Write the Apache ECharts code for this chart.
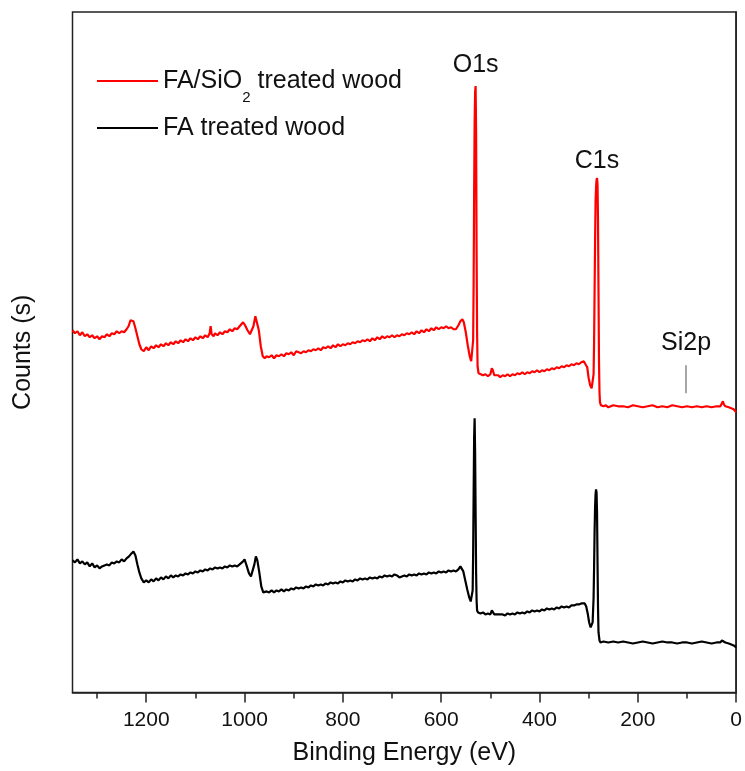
<!DOCTYPE html>
<html>
<head>
<meta charset="utf-8">
<script src="https://cdn.jsdelivr.net/npm/echarts@6/dist/echarts.min.js"></script>
<style>
html, body { margin: 0; padding: 0; background: #fff; }
#main { width: 745px; height: 771px; }
</style>
</head>
<body>
<div id="main"></div>
<script>
// XPS survey spectra, [binding energy (eV), counts (a.u.)]
var seriesNames = ['FA/SiO2 treated wood', 'FA treated wood'];

var redData = [
  [1350,362],[1345,359],[1340,361],[1335,357],[1330,360],[1325,356],[1320,358],[1315,355],[1310,357],[1305,354],
  [1300,356],[1295,353],[1290,356],[1285,355],[1280,358],[1275,356],[1270,359],[1265,358],[1260,361],[1255,359],
  [1250,361],[1245,360],[1240,363],[1236,366],[1232,372],[1229,373],[1226,371],[1222,364],[1218,356],[1214,348],
  [1210,343],[1205,341],[1200,345],[1195,342],[1190,346],[1185,344],[1180,347],[1175,345],[1170,348],[1165,346],
  [1160,349],[1155,347],[1150,350],[1145,348],[1140,351],[1135,349],[1130,352],[1125,350],[1120,353],[1115,351],
  [1110,354],[1105,352],[1100,355],[1095,353],[1090,356],[1085,354],[1080,357],[1075,355],[1071,359],[1069,366],
  [1067,358],[1063,356],[1060,359],[1055,357],[1050,360],[1045,358],[1040,361],[1035,360],[1030,363],[1025,361],
  [1020,364],[1015,363],[1010,366],[1006,367],[1003,370],[999,367],[994,362],[989,358],[986,357],[982,366],
  [978,376],[975,375],[971,362],[967,346],[963,336],[959,334],[955,336],[950,335],[945,337],[940,334],
  [935,337],[930,336],[925,338],[920,336],[915,339],[910,338],[905,340],[900,337],[895,341],[890,340],
  [885,339],[880,341],[875,340],[870,342],[865,341],[860,343],[855,342],[850,344],[845,342],[840,345],
  [835,344],[830,346],[825,344],[820,347],[815,345],[810,348],[805,346],[800,348],[795,347],[790,349],
  [785,348],[780,350],[775,349],[770,351],[765,350],[760,352],[755,351],[750,353],[745,351],[740,354],
  [735,352],[730,355],[725,353],[720,356],[715,354],[710,356],[705,355],[700,357],[695,355],[690,357],
  [685,356],[680,358],[675,357],[670,359],[665,358],[660,360],[655,358],[650,361],[645,359],[640,362],
  [635,360],[630,363],[625,361],[620,364],[615,362],[610,365],[605,363],[600,365],[595,364],[590,366],
  [585,364],[580,365],[575,363],[570,363],[565,367],[561,371],[557,373],[554,370],[550,360],[546,347],
  [542,336],[539,331],[537,331],[535,352],[534,410],[533,500],[532,570],[531,600],[530,606],[529,560],
  [528,440],[527,360],[526,326],[524,319],[520,318],[515,317],[510,318],[505,316],[500,318],[497,324],
  [495,322],[492,317],[488,316],[484,317],[480,315],[475,317],[470,316],[465,318],[460,316],[455,318],
  [450,317],[445,319],[440,318],[435,320],[430,318],[425,320],[420,319],[415,321],[410,320],[405,322],
  [400,320],[395,322],[390,321],[385,323],[380,322],[375,324],[370,323],[365,325],[360,324],[355,326],
  [350,325],[345,327],[340,326],[335,328],[330,327],[325,329],[320,328],[315,330],[310,331],[306,330],
  [303,325],[300,314],[297,307],[294,304],[292,305],[290,318],[289,350],[288,400],[287,450],[286,490],
  [285,505],[284,512],[283,514],[282,508],[281,470],[280,400],[279,330],[278,300],[277,290],[275,287],
  [270,286],[265,287],[260,285],[250,287],[240,286],[230,286],[220,285],[210,287],[200,286],[190,285],
  [180,286],[170,287],[160,285],[150,286],[140,285],[130,287],[120,286],[110,285],[100,286],[90,285],
  [80,286],[70,285],[60,286],[50,285],[40,286],[32,286],[29,289],[27,291],[25,288],[22,286],
  [15,285],[10,284],[5,283],[0,280]
];

var blackData = [
  [1350,132],[1345,130],[1340,133],[1335,129],[1330,131],[1325,128],[1320,130],[1315,126],[1310,129],[1305,125],
  [1300,127],[1295,124],[1290,126],[1285,127],[1280,128],[1275,127],[1270,130],[1265,129],[1260,131],[1255,130],
  [1250,133],[1245,131],[1240,134],[1235,136],[1230,139],[1226,141],[1222,137],[1218,128],[1214,120],[1210,114],
  [1205,110],[1200,112],[1195,110],[1190,113],[1185,111],[1180,114],[1175,112],[1170,115],[1165,113],[1160,116],
  [1155,114],[1150,117],[1145,115],[1140,117],[1135,116],[1130,118],[1125,117],[1120,119],[1115,118],[1110,120],
  [1105,119],[1100,121],[1095,120],[1090,122],[1085,121],[1080,123],[1075,122],[1070,124],[1065,123],[1060,125],
  [1055,124],[1050,125],[1045,124],[1040,126],[1035,125],[1030,127],[1025,126],[1020,127],[1015,126],[1010,128],
  [1006,129],[1003,131],[1000,133],[996,127],[991,119],[987,116],[984,115],[980,128],[977,136],[974,132],
  [970,120],[966,106],[962,100],[958,99],[955,101],[950,100],[945,102],[940,100],[935,102],[930,101],
  [925,103],[920,101],[915,103],[910,102],[905,104],[900,103],[895,105],[890,104],[885,105],[880,104],
  [875,106],[870,105],[865,107],[860,106],[855,108],[850,107],[845,108],[840,107],[835,109],[830,108],
  [825,110],[820,109],[815,110],[810,109],[805,111],[800,110],[795,112],[790,111],[785,112],[780,111],
  [775,113],[770,112],[765,114],[760,113],[755,114],[750,113],[745,115],[740,114],[735,115],[730,114],
  [725,116],[720,115],[715,117],[710,116],[705,117],[700,116],[695,118],[690,117],[685,115],[680,116],
  [675,117],[670,116],[665,118],[660,117],[655,118],[650,117],[645,119],[640,118],[635,119],[630,118],
  [625,120],[620,119],[615,120],[610,119],[605,121],[600,120],[595,121],[590,120],[585,122],[580,121],
  [575,122],[570,121],[565,123],[561,126],[558,125],[555,121],[551,112],[547,103],[543,95],[540,91],
  [538,90],[536,102],[535,140],[534,200],[533,255],[532,274],[531,240],[530,180],[529,120],[528,92],
  [527,82],[525,80],[520,79],[515,80],[510,78],[505,79],[500,78],[497,82],[495,81],[492,78],
  [488,77],[484,78],[480,77],[475,78],[470,77],[465,79],[460,78],[455,79],[450,78],[445,80],
  [440,79],[435,80],[430,79],[425,81],[420,80],[415,82],[410,81],[405,82],[400,81],[395,83],
  [390,82],[385,84],[380,83],[375,84],[370,83],[365,85],[360,84],[355,86],[350,85],[345,86],
  [340,85],[335,87],[330,87],[325,88],[320,88],[315,89],[311,90],[308,89],[305,86],[302,79],
  [299,70],[296,65],[294,64],[292,70],[290,95],[289,125],[288,160],[287,185],[286,198],[285,203],
  [284,200],[283,180],[282,130],[281,85],[280,60],[278,52],[276,50],[270,51],[260,50],[250,51],
  [240,50],[230,51],[220,50],[210,49],[200,50],[190,51],[180,50],[170,49],[160,50],[150,51],
  [140,50],[130,50],[120,49],[110,50],[100,50],[90,49],[80,50],[70,51],[60,50],[50,49],
  [40,50],[32,50],[29,52],[27,53],[25,51],[22,50],[15,49],[10,48],[5,47],[0,45]
];

var majorTicks = [0, 200, 400, 600, 800, 1000, 1200];
var minorTicks = [100, 300, 500, 700, 900, 1100, 1300];

var peakNames = ['O1s', 'C1s'];
var peakEnergies = [530, 283];
var si2pName = 'Si2p';
var si2pEnergy = 102;
var si2pTick = [299, 327];   // bottom, top of the marker line
var si2pLabelAt = 349;

var FONT = '"Liberation Sans", Arial, sans-serif';

// highest point of the red curve near each labelled energy
function peakCoord(data, e) {
  var best = null;
  data.forEach(function (p) {
    if (Math.abs(p[0] - e) <= 4 && (!best || p[1] > best[1])) best = p;
  });
  return best;
}

var labelGaps = [8, 4];
var markData = peakNames.map(function (n, i) {
  return {
    name: n,
    coord: peakCoord(redData, peakEnergies[i]),
    label: { position: 'top', distance: labelGaps[i] }
  };
});
markData.push({ name: si2pName, coord: [si2pEnergy, si2pLabelAt], label: { position: 'inside' } });

var chart = echarts.init(document.getElementById('main'));

chart.setOption({
  animation: false,
  backgroundColor: '#fff',
  grid: {
    left: 72.5, right: 7, top: 12, bottom: 78.5,
    show: true, borderColor: '#222', borderWidth: 1.5
  },
  legend: {
    data: seriesNames,
    orient: 'vertical',
    left: 97,
    top: 68.5,
    padding: 0,
    icon: 'rect',
    itemWidth: 61,
    itemHeight: 2,
    itemGap: 10,
    selectedMode: false,
    formatter: function (name) {
      if (name === seriesNames[0]) return '{a|FA/SiO}{b|2}{a| treated wood}';
      return '{a|' + name + '}';
    },
    textStyle: {
      rich: {
        a: { fontSize: 25, lineHeight: 25, color: '#111', fontFamily: FONT },
        b: { fontSize: 15, lineHeight: 15, color: '#111', fontFamily: FONT,
             verticalAlign: 'top', padding: [22, 0, 0, 0] }
      }
    }
  },
  xAxis: [{
    type: 'value',
    min: 0, max: 1350,
    inverse: true,
    position: 'bottom',
    name: 'Binding Energy (eV)',
    nameLocation: 'middle',
    nameGap: 48,
    nameTextStyle: { fontSize: 25, color: '#111', fontFamily: FONT },
    axisLine: { show: true, lineStyle: { color: '#222', width: 1.5 } },
    axisTick: { show: true, length: 10, customValues: majorTicks, lineStyle: { color: '#222', width: 1.5 } },
    axisLabel: {
      fontSize: 21, color: '#111', fontFamily: FONT, margin: 17, customValues: majorTicks,
      formatter: function (v) { return String(v); }
    },
    splitLine: { show: false }
  }, {
    type: 'value',
    min: 0, max: 1350,
    inverse: true,
    position: 'bottom',
    axisLine: { show: false },
    axisTick: { show: true, length: 6, customValues: minorTicks, lineStyle: { color: '#222', width: 1.5 } },
    axisLabel: { show: false },
    splitLine: { show: false }
  }],
  yAxis: {
    type: 'value',
    min: 0, max: 680,
    name: 'Counts (s)',
    nameLocation: 'middle',
    nameGap: 37,
    nameTextStyle: { fontSize: 25, color: '#111', fontFamily: FONT },
    axisLine: { show: true, lineStyle: { color: '#222', width: 1.5 } },
    axisTick: { show: false },
    axisLabel: { show: false },
    splitLine: { show: false }
  },
  series: [{
    name: seriesNames[0],
    type: 'line',
    data: redData,
    symbol: 'none',
    lineStyle: { color: '#ff0000', width: 2.2 },
    itemStyle: { color: '#ff0000' },
    z: 3,
    markPoint: {
      symbol: 'circle',
      symbolSize: 1,
      silent: true,
      itemStyle: { color: 'rgba(0,0,0,0)' },
      label: { show: true, formatter: '{b}', fontSize: 25, color: '#111', fontFamily: FONT },
      data: markData
    },
    markLine: {
      silent: true,
      symbol: 'none',
      label: { show: false },
      lineStyle: { color: '#888', width: 1.5, type: 'solid' },
      data: [[{ coord: [si2pEnergy, si2pTick[0]] }, { coord: [si2pEnergy, si2pTick[1]] }]]
    }
  }, {
    name: seriesNames[1],
    type: 'line',
    data: blackData,
    symbol: 'none',
    lineStyle: { color: '#000', width: 2.2 },
    itemStyle: { color: '#000' },
    z: 2
  }]
});
</script>
</body>
</html>
